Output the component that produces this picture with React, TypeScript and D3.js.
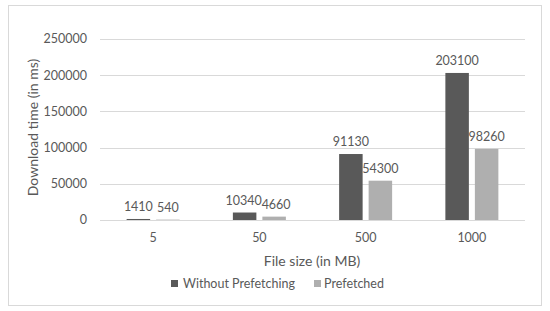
import React from 'react';
import * as d3 from 'd3';

const categories = ['5', '50', '500', '1000'];
const withoutPrefetching = [1410, 10340, 91130, 203100];
const prefetched = [540, 4660, 54300, 98260];
const yTicks = [0, 50000, 100000, 150000, 200000, 250000];
const seriesNames = ['Without Prefetching', 'Prefetched'];
const seriesColors = ['#595959', '#afafaf'];

const FONT = 'Lato, "Open Sans", sans-serif';
const TEXT = '#595959';

export default function App() {
  const width = 550;
  const height = 311;
  const plot = { left: 100, right: 525, top: 39, bottom: 220 };

  const x = d3.scaleBand<string>()
    .domain(categories)
    .range([plot.left, plot.right]);

  const y = d3.scaleLinear()
    .domain([0, 250000])
    .range([plot.bottom, plot.top]);

  const barW = 23.5;
  const gap = 6;
  const series = [withoutPrefetching, prefetched];

  return (
    <svg width={width} height={height} style={{ position: 'absolute', left: 0, top: 0 }}
      fontFamily={FONT}>
      <rect x={0} y={0} width={width} height={height} fill="#fff" />
      <rect x={8.5} y={5.5} width={533} height={300} fill="#fff" stroke="#d9d9d9" />

      {/* gridlines and y labels */}
      {yTicks.map(t => (
        <g key={t}>
          <line x1={plot.left} x2={plot.right} y1={Math.round(y(t)) + 0.5} y2={Math.round(y(t)) + 0.5}
            stroke="#d9d9d9" strokeWidth={1} />
          <text x={87} y={y(t)} dy="0.35em" textAnchor="end" fontSize={12.5} fill={TEXT}>{t}</text>
        </g>
      ))}

      {/* bars with value labels */}
      {series.map((vals, si) => (
        <g key={si}>
          {vals.map((v, i) => {
            const cx = (x(categories[i]) as number) + x.bandwidth() / 2;
            const bx = si === 0 ? cx - gap / 2 - barW : cx + gap / 2;
            // small nudge apart when neighbouring labels would touch
            const nudge = i === 1 ? (si === 0 ? -1 : 2) : 0;
            return (
              <g key={i}>
                <rect x={bx} y={y(v)} width={barW} height={plot.bottom - y(v)} fill={seriesColors[si]} />
                <text x={bx + barW / 2 + nudge} y={y(v) - 8} textAnchor="middle" fontSize={12.5} fill={TEXT}>{v}</text>
              </g>
            );
          })}
        </g>
      ))}

      {/* x labels */}
      {categories.map(c => (
        <text key={c} x={(x(c) as number) + x.bandwidth() / 2} y={238} dy="0.35em"
          textAnchor="middle" fontSize={12.5} fill={TEXT}>{c}</text>
      ))}

      <text x={312} y={261} dy="0.35em" textAnchor="middle" fontSize={14} fill={TEXT}>File size (in MB)</text>
      <text transform={`translate(33,${(plot.top + plot.bottom) / 2 - 2}) rotate(-90)`} dy="0.35em"
        textAnchor="middle" fontSize={14} fill={TEXT}>Download time (in ms)</text>

      {/* legend */}
      <g>
        <rect x={171} y={280} width={7} height={7} fill={seriesColors[0]} />
        <text x={183} y={284} dy="0.35em" fontSize={12.5} fill={TEXT}>{seriesNames[0]}</text>
        <rect x={314} y={280} width={7} height={7} fill={seriesColors[1]} />
        <text x={324} y={284} dy="0.35em" fontSize={12.5} fill={TEXT}>{seriesNames[1]}</text>
      </g>
    </svg>
  );
}
